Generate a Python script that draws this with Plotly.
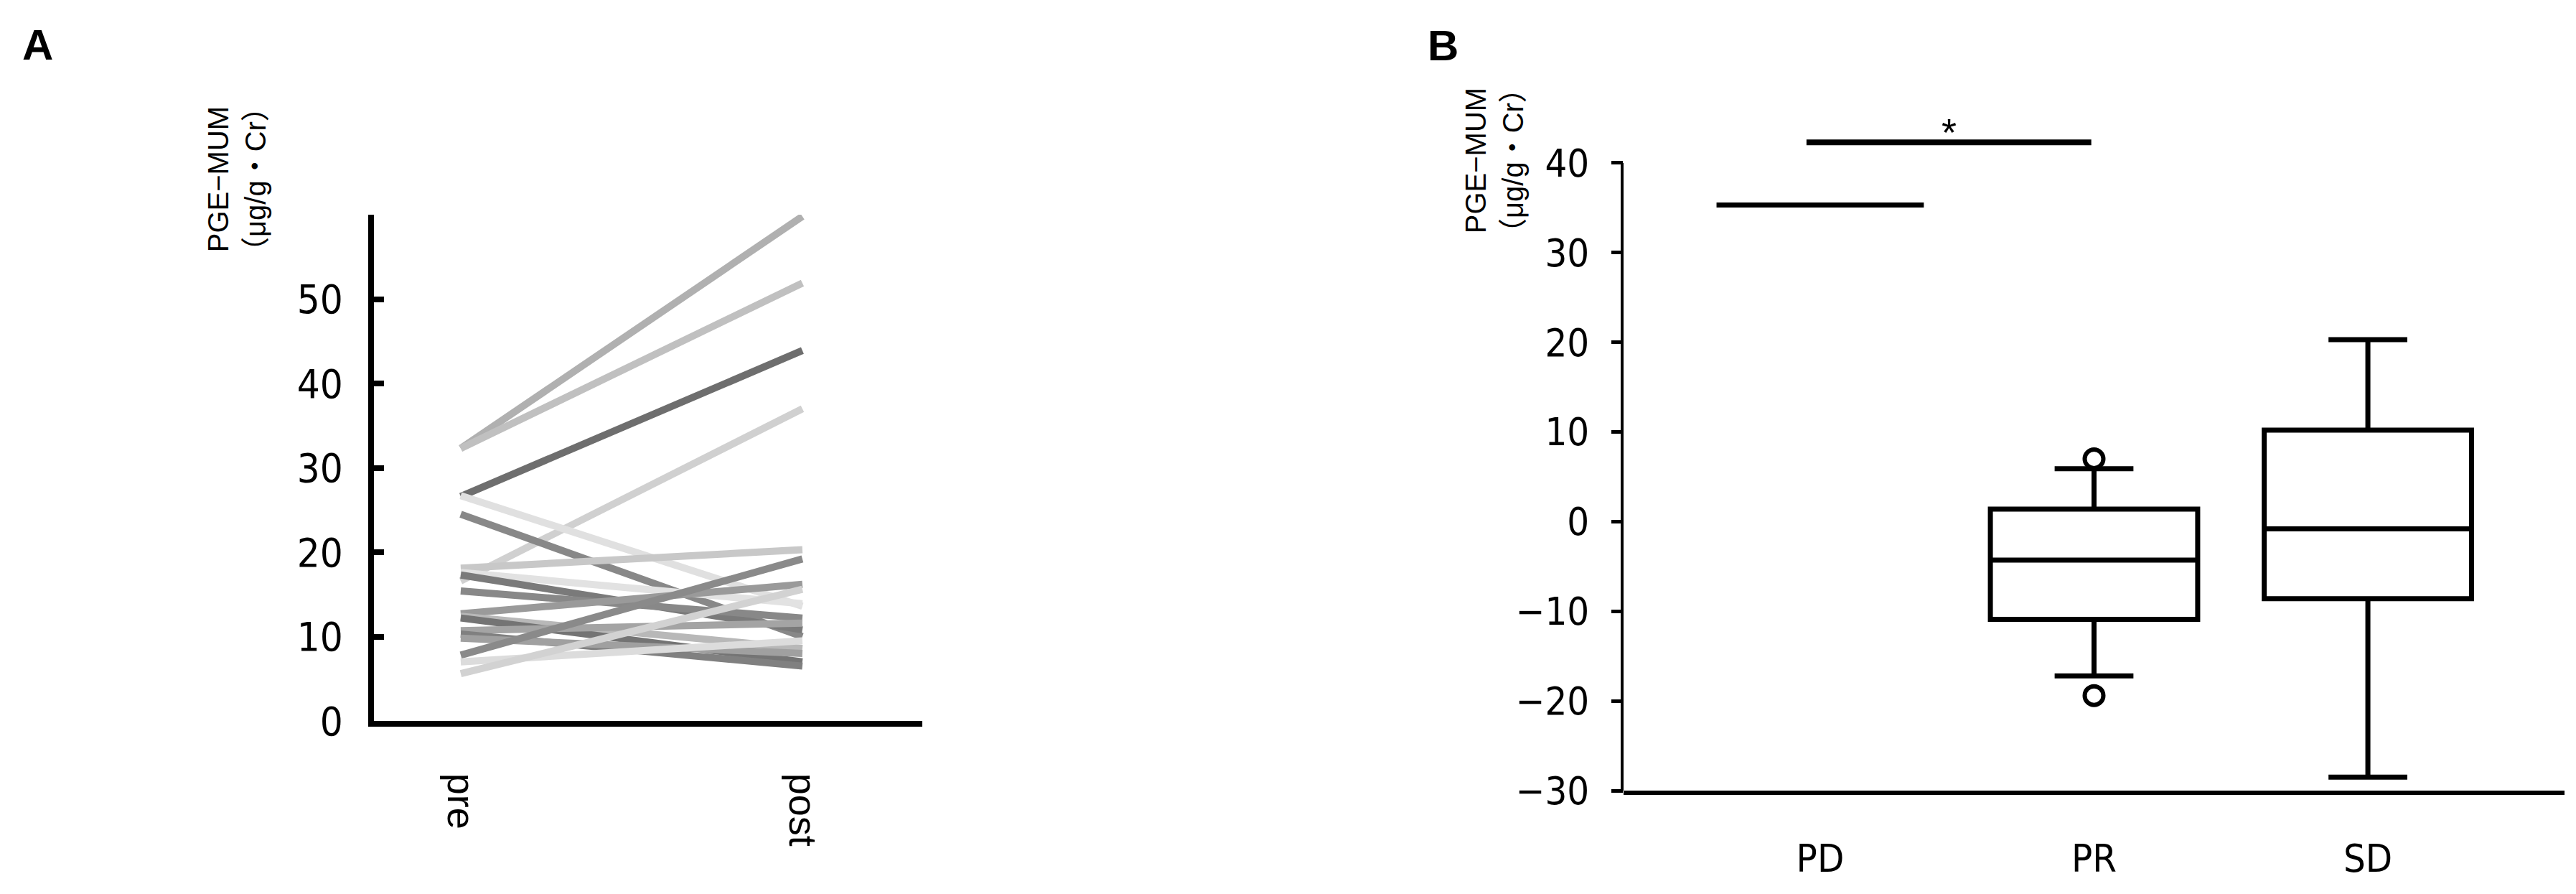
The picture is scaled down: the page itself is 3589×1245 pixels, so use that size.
"""
Paired PGE-MUM pre/post (A) and change by response group (B)
"""

import plotly.graph_objects as go

W, H = 3589, 1245

# ---- panel A data: one line per patient ----
pre_values = [32.3, 32.3, 26.6, 16.6, 26.7, 24.5, 18.1, 17.6, 17.3, 15.4,
              12.7, 12.4, 12.2, 10.7, 10.3, 9.8, 7.8, 7.0, 5.6]
post_values = [59.8, 51.9, 43.9, 37.0, 13.6, 10.0, 20.3, 13.9, 10.8, 12.2,
               16.2, 8.6, 7.0, 11.6, 6.5, 8.0, 19.2, 9.5, 15.6]
line_colors = ["#b0b0b0", "#c0c0c0", "#6e6e6e", "#d0d0d0", "#e0e0e0", "#888888",
               "#c8c8c8", "#e2e2e2", "#7a7a7a", "#888888", "#9a9a9a", "#b8b8b8",
               "#747474", "#a4a4a4", "#808080", "#a0a0a0", "#8a8a8a", "#dcdcdc",
               "#d2d2d2"]
timepoints = [0, 1]
timepoint_labels = ["pre", "post"]
a_ticks = [0, 10, 20, 30, 40, 50]

# ---- panel B data: box statistics per group ----
groups = ["PD", "PR", "SD"]
q1 = [35.3, -10.9, -8.6]
median = [35.3, -4.3, -0.8]
q3 = [35.3, 1.4, 10.2]
lower_fence = [35.3, -17.2, -28.5]
upper_fence = [35.3, 5.9, 20.3]
outlier_group = ["PR", "PR"]
outlier_values = [7.0, -19.4]
b_ticks = [-30, -20, -10, 0, 10, 20, 30, 40]
b_ticktext = ["−30", "−20", "−10", "0", "10", "20", "30", "40"]
sig_bar = (-0.05, 0.99, 42.3)  # x from, x to, y (PD vs PR)
sig_label = "*"

NARROW = "Liberation Sans Narrow, DejaVu Sans Condensed, Liberation Sans, Arial"
SANS = "Liberation Sans, Arial, Noto Sans CJK JP"

fig = go.Figure()

for pre, post, col in zip(pre_values, post_values, line_colors):
    fig.add_trace(
        go.Scatter(
            x=timepoints,
            y=[pre, post],
            mode="lines",
            line=dict(color=col, width=10),
            xaxis="x",
            yaxis="y",
            showlegend=False,
            hoverinfo="skip",
        )
    )

fig.add_trace(
    go.Box(
        x=groups,
        q1=q1,
        median=median,
        q3=q3,
        lowerfence=lower_fence,
        upperfence=upper_fence,
        width=0.757,
        whiskerwidth=0.38,
        fillcolor="white",
        line=dict(color="black", width=7),
        boxpoints=False,
        xaxis="x2",
        yaxis="y2",
        showlegend=False,
    )
)

fig.add_trace(
    go.Scatter(
        x=outlier_group,
        y=outlier_values,
        mode="markers",
        marker=dict(symbol="circle-open", size=26, color="black", line=dict(width=6)),
        xaxis="x2",
        yaxis="y2",
        showlegend=False,
        cliponaxis=False,
    )
)


def px_x(p):
    return p / W


def px_y(p):
    return 1 - p / H


fig.update_layout(
    width=W,
    height=H,
    margin=dict(l=0, r=0, t=0, b=0, autoexpand=False),
    paper_bgcolor="white",
    plot_bgcolor="white",
    font=dict(family=SANS, color="black"),
    xaxis=dict(
        domain=[px_x(521), px_x(1285)],
        range=[-0.254, 1.351],
        tickvals=timepoints,
        ticktext=timepoint_labels,
        tickangle=90,
        tickfont=dict(family=SANS, size=54),
        ticks="",
        ticklabelstandoff=54,
        showline=True,
        linecolor="black",
        linewidth=8,
        showgrid=False,
        zeroline=False,
        automargin=False,
    ),
    yaxis=dict(
        domain=[px_y(1004), px_y(299)],
        range=[0, 60],
        tickvals=a_ticks,
        tickfont=dict(family=NARROW, size=56),
        ticks="inside",
        ticklen=14,
        tickwidth=8,
        tickcolor="black",
        ticklabelstandoff=24,
        showline=True,
        linecolor="black",
        linewidth=8,
        showgrid=False,
        zeroline=False,
        automargin=False,
    ),
    xaxis2=dict(
        domain=[px_x(2262), px_x(3573)],
        range=[-0.718, 2.718],
        anchor="y2",
        type="category",
        tickfont=dict(family=NARROW, size=54),
        ticks="",
        ticklabelstandoff=42,
        showline=True,
        linecolor="black",
        linewidth=6,
        showgrid=False,
        zeroline=False,
        automargin=False,
    ),
    yaxis2=dict(
        domain=[px_y(1101), px_y(152)],
        range=[-30, 46],
        anchor="x2",
        tickvals=b_ticks,
        ticktext=b_ticktext,
        tickfont=dict(family=NARROW, size=54),
        ticks="outside",
        ticklen=16,
        tickwidth=5,
        tickcolor="black",
        ticklabelstandoff=20,
        showline=False,
        showgrid=False,
        zeroline=False,
        automargin=False,
    ),
    shapes=[
        # y axis line of panel B stops at 40
        dict(type="line", xref="x2 domain", yref="y2", x0=-0.0015, x1=-0.0015,
             y0=b_ticks[0], y1=b_ticks[-1], line=dict(color="black", width=4)),
        # significance bar PD vs PR
        dict(type="line", xref="x2", yref="y2", x0=sig_bar[0], x1=sig_bar[1],
             y0=sig_bar[2], y1=sig_bar[2], line=dict(color="black", width=8)),
    ],
    annotations=[
        dict(text="<b>A</b>", x=px_x(52), y=px_y(62), xref="paper", yref="paper",
             showarrow=False, font=dict(family=SANS, size=60), xanchor="center", yanchor="middle"),
        dict(text="<b>B</b>", x=px_x(2010), y=px_y(64), xref="paper", yref="paper",
             showarrow=False, font=dict(family=SANS, size=60), xanchor="center", yanchor="middle"),
        dict(text="PGE−MUM<br>（μg/g・Cr）", textangle=-90, x=px_x(330), y=px_y(250),
             xref="paper", yref="paper", showarrow=False, font=dict(family=SANS, size=40),
             xanchor="center", yanchor="middle"),
        dict(text="PGE−MUM<br>（μg/g・Cr）", textangle=-90, x=px_x(2082), y=px_y(224),
             xref="paper", yref="paper", showarrow=False, font=dict(family=SANS, size=40),
             xanchor="center", yanchor="middle"),
        dict(text=sig_label, x=(sig_bar[0] + sig_bar[1]) / 2, y=43.4, xref="x2", yref="y2",
             showarrow=False, font=dict(family=SANS, size=54), xanchor="center", yanchor="middle"),
    ],
)

fig.write_html(
    "out.html",
    config={"displayModeBar": False},
    post_script="document.body.style.margin='0';",
)
